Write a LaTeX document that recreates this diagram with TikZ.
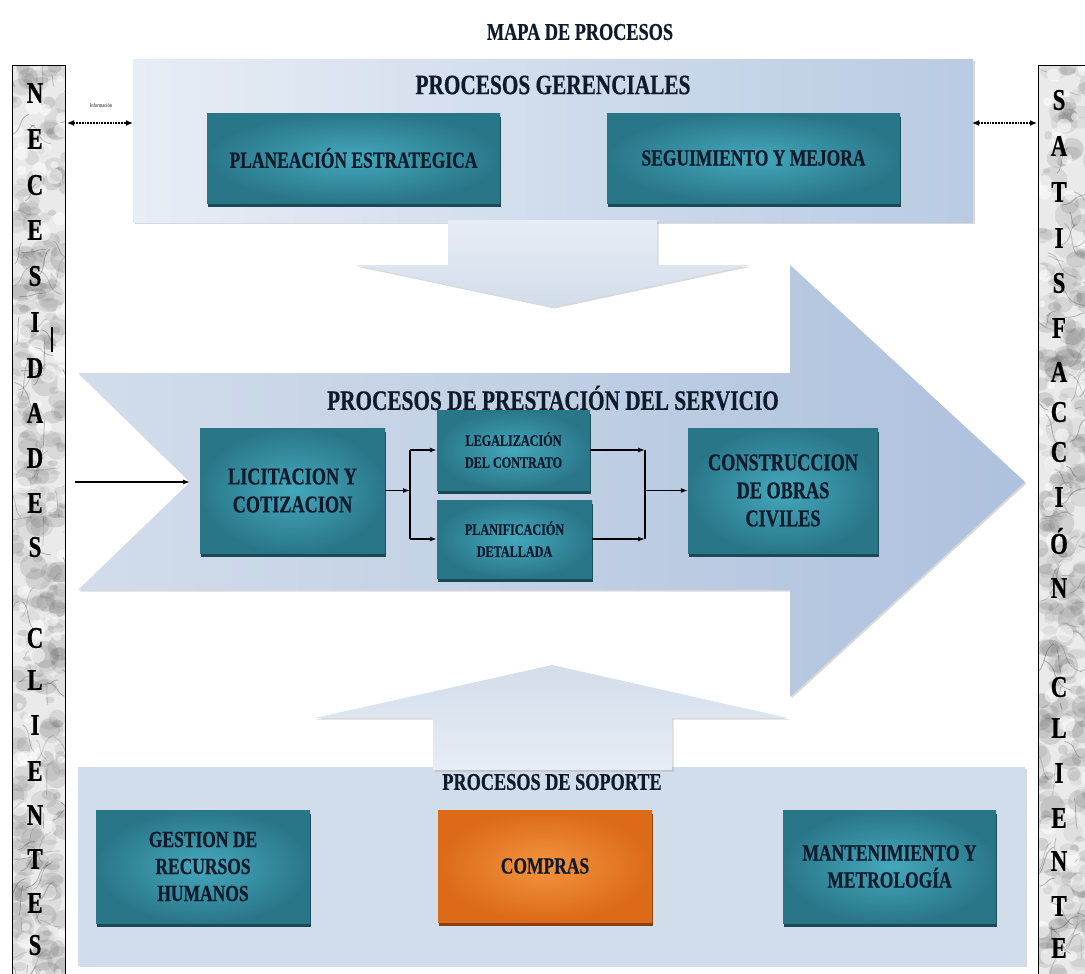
\documentclass[tikz,border=0pt]{standalone}
\usepackage{fontspec}
\setmainfont{Liberation Serif}[FakeStretch=0.76, BoldFeatures={FakeBold=0.6}]
\usetikzlibrary{shadows,arrows.meta,calc}

\definecolor{tealIn}{HTML}{44A8BC}
\definecolor{tealOut}{HTML}{2A7689}
\definecolor{tealDark}{HTML}{1B4A57}
\definecolor{orIn}{HTML}{F39440}
\definecolor{orOut}{HTML}{DC6A16}
\definecolor{orDark}{HTML}{8A3E0B}
\definecolor{ink}{HTML}{0F1A2B}
\definecolor{marble}{HTML}{EAEAEA}
\definecolor{blueA}{HTML}{E7EDF5}
\definecolor{blueB}{HTML}{B9CBE3}
\definecolor{blueC}{HTML}{AEC1DD}
\definecolor{blueD}{HTML}{D2DDEB}

% marble-like texture for the two side columns
\newcommand\marbletexture[4]{%
  \begin{scope}
    \clip (#1,#2) rectangle (#3,#4);
    \fill[marble] (#1,#2) rectangle (#3,#4);
    \foreach \k in {1,...,300}{%
      \pgfmathsetmacro\mx{#1+(#3-#1)*rnd}%
      \pgfmathsetmacro\my{#2+(#4-#2)*rnd}%
      \pgfmathsetmacro\mr{4+10*rnd}%
      \pgfmathsetmacro\ms{0.4+0.8*rnd}%
      \pgfmathsetmacro\mo{0.06+0.10*rnd}%
      \fill[black!75, opacity=\mo] (\mx,\my) ellipse [x radius=\mr, y radius=\ms*\mr];
    }
    \foreach \k in {1,...,60}{%
      \pgfmathsetmacro\mx{#1+(#3-#1)*rnd}%
      \pgfmathsetmacro\my{#2+(#4-#2)*rnd}%
      \pgfmathsetmacro\mr{3+6*rnd}%
      \fill[white, opacity=0.5] (\mx,\my) circle [radius=\mr];
    }
    \foreach \k in {1,...,90}{%
      \pgfmathsetmacro\mx{#1+(#3-#1)*rnd}%
      \pgfmathsetmacro\my{#2+(#4-#2)*rnd}%
      \pgfmathsetmacro\dx{30*rand}%
      \pgfmathsetmacro\dy{34*rand}%
      \pgfmathsetmacro\mo{0.18+0.25*rnd}%
      \draw[gray!60!black, opacity=\mo, line width=0.8pt]
        (\mx,\my) .. controls (\mx+0.6*\dx,\my+0.2*\dy) and (\mx+0.2*\dx,\my+0.8*\dy) .. (\mx+\dx,\my+\dy);
    }
  \end{scope}
}

\begin{document}
\begin{tikzpicture}[x=1pt,y=-1pt,
  every node/.style={inner sep=0pt, text=ink, align=center},
  sidepanel/.style={rectangle, draw=black, line width=1pt},
  tbox/.style={rectangle, inner color=tealIn, outer color=tealOut,
    drop shadow={shadow xshift=1pt, shadow yshift=-4pt, fill=tealDark, opacity=1}},
  obox/.style={rectangle, inner color=orIn, outer color=orOut,
    drop shadow={shadow xshift=1pt, shadow yshift=-4pt, fill=orDark, opacity=1}},
  softshadow/.style={drop shadow={shadow xshift=1.5pt, shadow yshift=-1.5pt, opacity=.3}},
  sidelet/.style={font=\fontsize{30}{30}\selectfont\bfseries, text=black},
  head/.style={font=\fontsize{28}{30}\selectfont\bfseries},
  arr/.style={line width=1.2pt, -{Latex[length=7pt,width=5pt]}},
  info/.style={densely dotted, line width=1.8pt, {Latex[length=7pt,width=6pt]}-{Latex[length=7pt,width=6pt]}}
]
\useasboundingbox (0,0) rectangle (1085,974);
\clip (0,0) rectangle (1085,974);
\pgfmathsetseed{4217}

% title
\node[font=\fontsize{24}{26}\selectfont\bfseries] (title) at (580,32) {MAPA DE PROCESOS};

% side columns
\marbletexture{12}{66}{65}{985}
\node[sidepanel, minimum width=53pt, minimum height=919pt] (nec) at (38.5,525.5) {};
\marbletexture{1038}{66}{1095}{985}
\node[sidepanel, minimum width=57pt, minimum height=919pt] (sat) at (1066.5,525.5) {};

\foreach \l/\yy in {N/93,E/139,C/185,E/230,S/276,I/322,D/368,A/413,D/458,E/503,S/547,
                    C/638,L/680,I/725,E/771,N/815,T/859,E/903,S/945}
  \node[sidelet] at (35,\yy) {\l};
\foreach \l/\yy in {S/100,A/146,T/192,I/238,S/283,F/328,A/372,C/412,C/452,I/497,Ó/541,N/588,
                    C/687,L/728,I/773,E/818,N/861,T/906,E/948}
  \node[sidelet] at (1059,\yy) {\l};
\draw[line width=1.2pt] (52,327) -- (52,352);

% management processes panel
\node[rectangle, left color=blueA, right color=blueB, softshadow,
      minimum width=840pt, minimum height=162pt] (ger) at (553,141) {};
\node[head] (tger) at (553,85) {PROCESOS GERENCIALES};
\node[tbox, minimum width=293pt, minimum height=90pt,
      font=\fontsize{23}{25}\selectfont\bfseries] (plan) at (353.5,158) {PLANEACIÓN ESTRATEGICA};
\node[tbox, minimum width=293pt, minimum height=90pt,
      font=\fontsize{23}{25}\selectfont\bfseries] (segui) at (753.5,158) {SEGUIMIENTO Y MEJORA};

% information exchange with both columns
\node[font=\fontsize{6}{6}\selectfont] (infotxt) at (101,105) {Información};
\coordinate (il) at (67,123);
\coordinate (ir) at (133,123);
\draw[info] (il) -- (ir);
\coordinate (jl2) at (972,123);
\coordinate (jr2) at (1037,123);
\draw[info] (jl2) -- (jr2);

% arrow from management to service delivery
\path[top color=blueA, bottom color=blueD, softshadow]
  (448,220) -- (657,220) -- (657,265) -- (750,265) -- (553,307) -- (355,265) -- (448,265) -- cycle;

% service delivery arrow
\path[left color=blueD, middle color=blueA, right color=blueC, softshadow]
  (78,373) -- (790,373) -- (790,265) -- (1025,482) -- (790,697) -- (790,590)
  -- (78,590) -- (190,482) -- cycle;
\coordinate (notch) at (190,482);
\coordinate (inS) at (75,482);
\draw[arr] (inS) -- (notch);
\node[head] (tserv) at (553,398) {PROCESOS DE PRESTACIÓN DEL SERVICIO};

\node[tbox, minimum width=185pt, minimum height=125pt,
      font=\fontsize{24}{28}\selectfont\bfseries] (lic) at (292.5,490.5) {LICITACION Y\\COTIZACION};
\node[tbox, minimum width=153pt, minimum height=80pt,
      font=\fontsize{16}{22}\selectfont\bfseries] (leg) at (513.5,450) {LEGALIZACIÓN\\DEL CONTRATO};
\node[tbox, minimum width=155pt, minimum height=78pt,
      font=\fontsize{16}{22}\selectfont\bfseries] (plani) at (514.5,539) {PLANIFICACIÓN\\DETALLADA};
\node[tbox, minimum width=190pt, minimum height=125pt,
      font=\fontsize{24}{28}\selectfont\bfseries] (cons) at (783,490.5) {CONSTRUCCION\\DE OBRAS\\CIVILES};

% flow between the service activities
\coordinate (jl) at (410,490.5);
\coordinate (jr) at (645,490.5);
\draw[arr] (lic.east) -- (jl);
\draw[line width=1.2pt] (jl |- leg.west) -- (jl |- plani.west);
\draw[arr] (jl |- leg.west) -- (leg.west);
\draw[arr] (jl |- plani.west) -- (plani.west);
\draw[arr] (leg.east) -- (jr |- leg.east);
\draw[arr] (plani.east) -- (jr |- plani.east);
\draw[line width=1.2pt] (jr |- leg.east) -- (jr |- plani.east);
\draw[arr] (jr) -- (cons.west);

% support processes panel
\node[rectangle, left color=blueD, middle color=blueA, right color=blueD, softshadow,
      minimum width=947pt, minimum height=198pt] (sop) at (551.5,866) {};
\path[top color=blueD, bottom color=blueA, softshadow]
  (433,770) -- (433,718) -- (315,718) -- (552,665) -- (788,718) -- (672,718) -- (672,770) -- cycle;
\node[font=\fontsize{24}{26}\selectfont\bfseries] (tsop) at (552,782) {PROCESOS DE SOPORTE};

\node[tbox, minimum width=214pt, minimum height=113pt,
      font=\fontsize{23}{27}\selectfont\bfseries] (gest) at (203,866.5) {GESTION DE\\RECURSOS\\HUMANOS};
\node[obox, minimum width=214pt, minimum height=112pt,
      font=\fontsize{23}{27}\selectfont\bfseries] (comp) at (545,866) {COMPRAS};
\node[tbox, minimum width=213pt, minimum height=113pt,
      font=\fontsize{23}{27}\selectfont\bfseries] (mant) at (889.5,866.5) {MANTENIMIENTO Y\\METROLOGÍA};
\end{tikzpicture}
\end{document}
